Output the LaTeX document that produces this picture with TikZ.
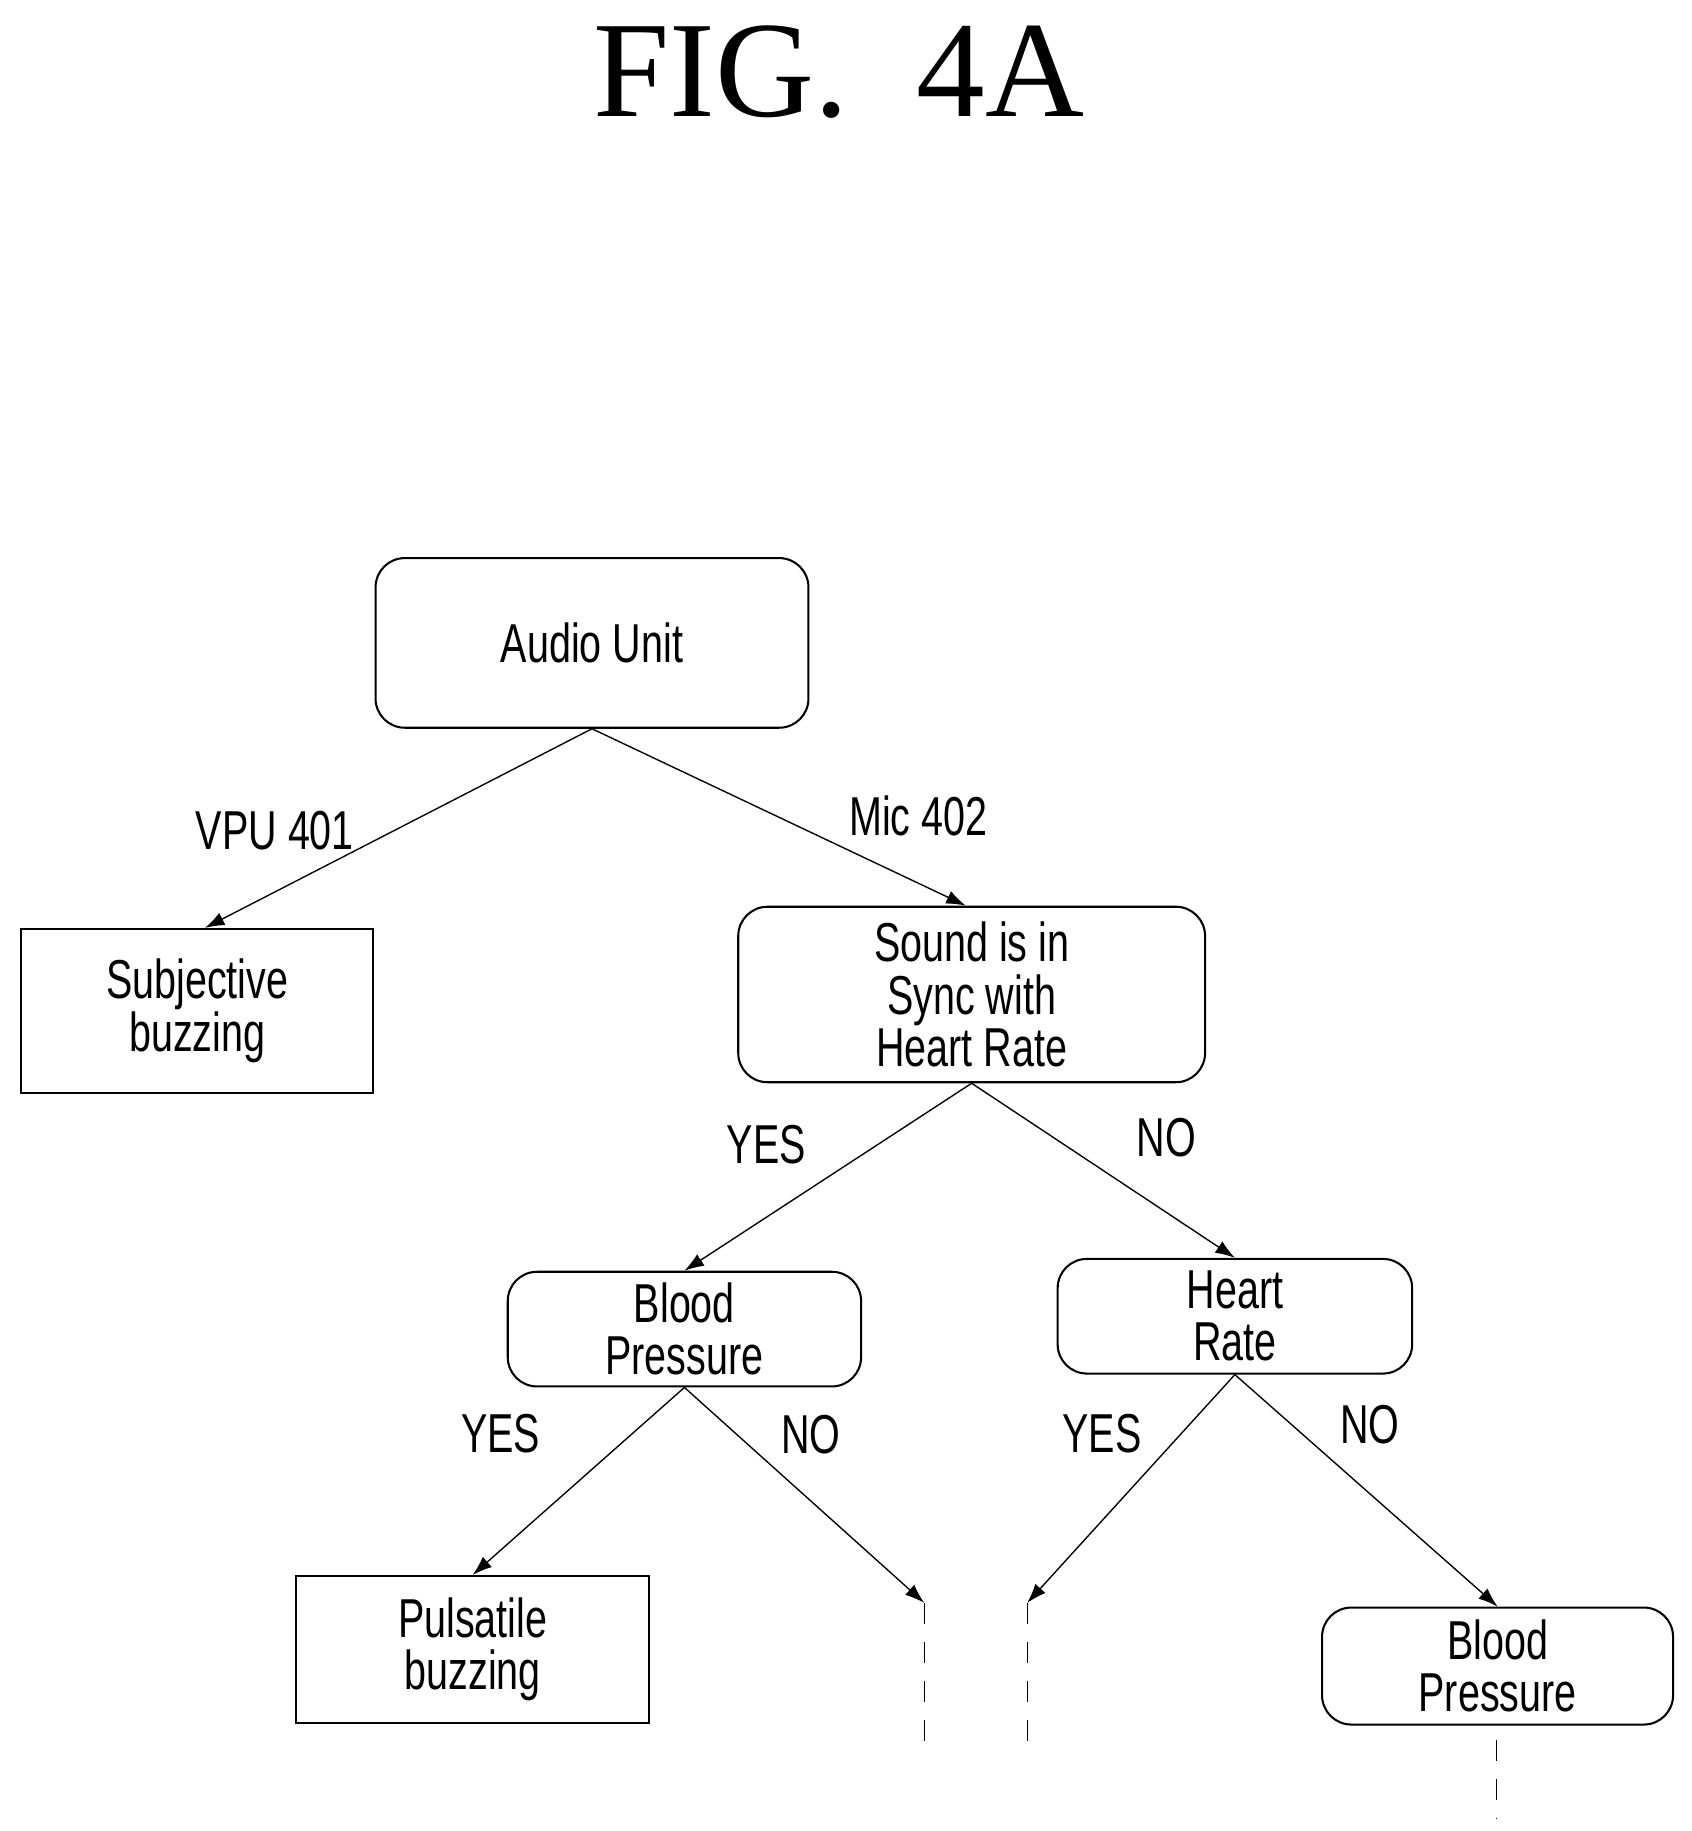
\documentclass[tikz,border=0pt]{standalone}
\usepackage{fontspec}
\setmainfont{Liberation Serif}
\newfontfamily\lab[FakeStretch=0.72]{Liberation Sans}
\usetikzlibrary{arrows.meta}
\begin{document}
\begin{tikzpicture}[x=0.03cm,y=-0.03cm,line width=1.5pt,
 box/.style={draw,align=center,font=\lab\fontsize{40}{38}\selectfont,inner sep=0pt},
 rbox/.style={box,rounded corners=0.75cm},
 lbl/.style={font=\lab\fontsize{40}{38}\selectfont},
 arr/.style={line width=1pt,-{Latex[length=0.5cm,width=0.35cm]}},
 dsh/.style={line width=1pt,dash pattern=on 0.55cm off 0.45cm}]
\useasboundingbox (0,0) rectangle (1446,1565);
\node[font=\fontsize{100}{100}\selectfont] (title) at (717,62) {FIG.\ \ 4A};
\node[rbox,minimum width=11.1cm,minimum height=4.35cm] (audio) at (506,549.5) {Audio Unit};
\node[box,minimum width=9.03cm,minimum height=4.2cm] (subj) at (168.5,864) {Subjective\\buzzing};
\node[rbox,minimum width=11.97cm,minimum height=4.5cm] (sound) at (830.5,850) {Sound is in\\Sync with\\Heart Rate};
\node[rbox,minimum width=9.06cm,minimum height=2.94cm] (bp1) at (585,1136) {Blood\\Pressure};
\node[rbox,minimum width=9.09cm,minimum height=2.94cm] (hr) at (1055.5,1125) {Heart\\Rate};
\node[box,minimum width=9.06cm,minimum height=3.78cm] (puls) at (404,1410) {Pulsatile\\buzzing};
\node[rbox,minimum width=9.0cm,minimum height=3.0cm] (bp2) at (1280,1424) {Blood\\Pressure};
\coordinate (d1) at (790,1370); \coordinate (d1e) at (790,1497);
\coordinate (d2) at (878,1370); \coordinate (d2e) at (878,1497);
\coordinate (d3) at (1279,1487); \coordinate (d3e) at (1279,1555);
\draw[arr] (audio.south) -- ([xshift=0.2cm]subj.north);
\draw[arr] (audio.south) -- ([xshift=-0.15cm]sound.north);
\draw[arr] (sound.south) -- (bp1.north);
\draw[arr] (sound.south) -- (hr.north);
\draw[arr] (bp1.south) -- (puls.north);
\draw[arr] (bp1.south) -- (d1);
\draw[arr] (hr.south) -- (d2);
\draw[arr] (hr.south) -- (bp2.north);
\draw[dsh] (d1) -- (d1e);
\draw[dsh] (d2) -- (d2e);
\draw[dsh] (d3) -- (d3e);
\node[lbl] (l1) at (235,710) {VPU 401};
\node[lbl] (l2) at (785,697) {Mic 402};
\node[lbl] (l3) at (655,978) {YES};
\node[lbl] (l4) at (997,972) {NO};
\node[lbl] (l5) at (428,1225) {YES};
\node[lbl] (l6) at (693,1226) {NO};
\node[lbl] (l7) at (942,1225) {YES};
\node[lbl] (l8) at (1171,1218) {NO};
\end{tikzpicture}
\end{document}
